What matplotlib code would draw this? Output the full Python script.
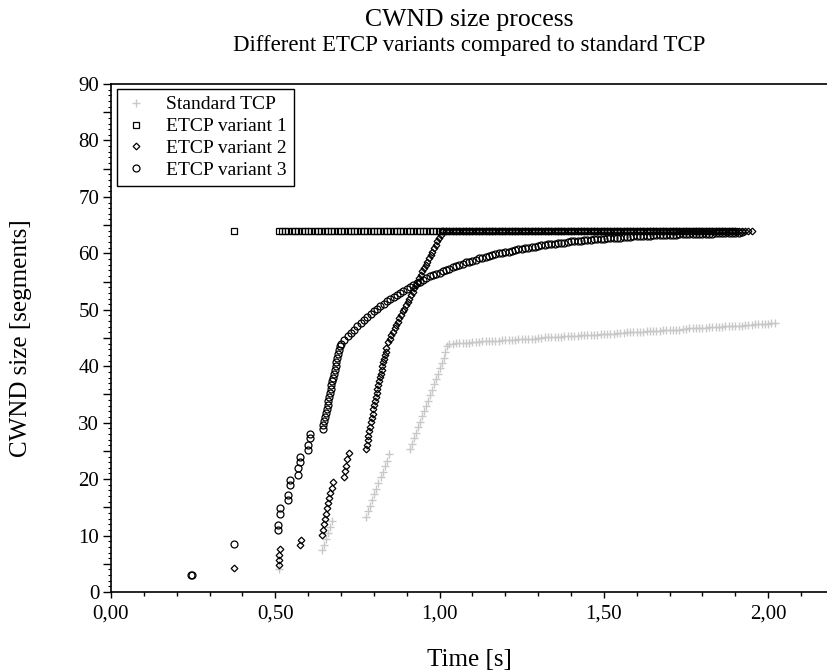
import matplotlib
matplotlib.use('Agg')
import matplotlib.pyplot as plt
from matplotlib.ticker import MultipleLocator, FuncFormatter

plt.rcParams['font.family'] = ['Liberation Serif', 'DejaVu Serif']

# Standard TCP (light grey crosses)
tcp_t = [0.512, 0.641, 0.647, 0.653, 0.660, 0.666, 0.672,
         0.776, 0.782, 0.789, 0.795, 0.801, 0.808, 0.814, 0.821, 0.827, 0.834, 0.840, 0.847,
         0.910, 0.916, 0.922, 0.928, 0.934, 0.940, 0.946, 0.952, 0.958, 0.964,
         0.970, 0.976, 0.982, 0.988, 0.994, 1.000, 1.006, 1.012, 1.018, 1.024]
tcp_y = [4.0, 7.4, 8.4, 9.4, 10.5, 11.5, 12.5,
         13.3, 14.3, 15.3, 16.3, 17.3, 18.3, 19.3, 20.3, 21.3, 22.3, 23.3, 24.4,
         25.3, 26.3, 27.2, 28.2, 29.2, 30.1, 31.1, 32.0, 33.0, 33.9,
         34.9, 35.8, 36.8, 37.7, 38.7, 39.6, 40.6, 41.5, 42.5, 43.5]
tcp_flat_t = [1.03, 1.04, 1.05, 1.06, 1.07, 1.08, 1.09, 1.10, 1.11, 1.12,
              1.13, 1.14, 1.15, 1.16, 1.17, 1.18, 1.19, 1.20, 1.21, 1.22,
              1.23, 1.24, 1.25, 1.26, 1.27, 1.28, 1.29, 1.30, 1.31, 1.32,
              1.33, 1.34, 1.35, 1.36, 1.37, 1.38, 1.39, 1.40, 1.41, 1.42,
              1.43, 1.44, 1.45, 1.46, 1.47, 1.48, 1.49, 1.50, 1.51, 1.52,
              1.53, 1.54, 1.55, 1.56, 1.57, 1.58, 1.59, 1.60, 1.61, 1.62,
              1.63, 1.64, 1.65, 1.66, 1.67, 1.68, 1.69, 1.70, 1.71, 1.72,
              1.73, 1.74, 1.75, 1.76, 1.77, 1.78, 1.79, 1.80, 1.81, 1.82,
              1.83, 1.84, 1.85, 1.86, 1.87, 1.88, 1.89, 1.90, 1.91, 1.92,
              1.93, 1.94, 1.95, 1.96, 1.97, 1.98, 1.99, 2.00, 2.01, 2.02]
tcp_flat_y = [44.0, 44.0, 44.1, 44.1, 44.1, 44.2, 44.2, 44.3, 44.3, 44.3,
              44.4, 44.4, 44.4, 44.5, 44.5, 44.5, 44.6, 44.6, 44.7, 44.7,
              44.7, 44.8, 44.8, 44.8, 44.9, 44.9, 44.9, 45.0, 45.0, 45.1,
              45.1, 45.1, 45.2, 45.2, 45.2, 45.3, 45.3, 45.3, 45.4, 45.4,
              45.5, 45.5, 45.5, 45.6, 45.6, 45.6, 45.7, 45.7, 45.7, 45.8,
              45.8, 45.9, 45.9, 45.9, 46.0, 46.0, 46.0, 46.1, 46.1, 46.1,
              46.2, 46.2, 46.3, 46.3, 46.3, 46.4, 46.4, 46.4, 46.5, 46.5,
              46.5, 46.6, 46.6, 46.7, 46.7, 46.7, 46.8, 46.8, 46.8, 46.9,
              46.9, 46.9, 47.0, 47.0, 47.1, 47.1, 47.1, 47.2, 47.2, 47.2,
              47.3, 47.3, 47.3, 47.4, 47.4, 47.5, 47.5, 47.5, 47.6, 47.6]

# times of the points sitting on the 64 segment ceiling
level_t = [0.51, 0.52, 0.53, 0.54, 0.55, 0.56, 0.57, 0.58, 0.59, 0.60,
           0.61, 0.62, 0.63, 0.64, 0.65, 0.66, 0.67, 0.68, 0.69, 0.70,
           0.71, 0.72, 0.73, 0.74, 0.75, 0.76, 0.77, 0.78, 0.79, 0.80,
           0.81, 0.82, 0.83, 0.84, 0.85, 0.86, 0.87, 0.88, 0.89, 0.90,
           0.91, 0.92, 0.93, 0.94, 0.95, 0.96, 0.97, 0.98, 0.99, 1.00,
           1.01, 1.02, 1.03, 1.04, 1.05, 1.06, 1.07, 1.08, 1.09, 1.10,
           1.11, 1.12, 1.13, 1.14, 1.15, 1.16, 1.17, 1.18, 1.19, 1.20,
           1.21, 1.22, 1.23, 1.24, 1.25, 1.26, 1.27, 1.28, 1.29, 1.30,
           1.31, 1.32, 1.33, 1.34, 1.35, 1.36, 1.37, 1.38, 1.39, 1.40,
           1.41, 1.42, 1.43, 1.44, 1.45, 1.46, 1.47, 1.48, 1.49, 1.50,
           1.51, 1.52, 1.53, 1.54, 1.55, 1.56, 1.57, 1.58, 1.59, 1.60,
           1.61, 1.62, 1.63, 1.64, 1.65, 1.66, 1.67, 1.68, 1.69, 1.70,
           1.71, 1.72, 1.73, 1.74, 1.75, 1.76, 1.77, 1.78, 1.79, 1.80,
           1.81, 1.82, 1.83, 1.84, 1.85, 1.86, 1.87, 1.88, 1.89, 1.90,
           1.91, 1.92, 1.93, 1.94, 1.95]
level_y = [64, 64, 64, 64, 64, 64, 64, 64, 64, 64, 64, 64, 64, 64, 64, 64, 64, 64, 64, 64,
           64, 64, 64, 64, 64, 64, 64, 64, 64, 64, 64, 64, 64, 64, 64, 64, 64, 64, 64, 64,
           64, 64, 64, 64, 64, 64, 64, 64, 64, 64, 64, 64, 64, 64, 64, 64, 64, 64, 64, 64,
           64, 64, 64, 64, 64, 64, 64, 64, 64, 64, 64, 64, 64, 64, 64, 64, 64, 64, 64, 64,
           64, 64, 64, 64, 64, 64, 64, 64, 64, 64, 64, 64, 64, 64, 64, 64, 64, 64, 64, 64,
           64, 64, 64, 64, 64, 64, 64, 64, 64, 64, 64, 64, 64, 64, 64, 64, 64, 64, 64, 64,
           64, 64, 64, 64, 64, 64, 64, 64, 64, 64, 64, 64, 64, 64, 64, 64, 64, 64, 64, 64,
           64, 64, 64, 64, 64]

# ETCP variant 1 (squares)
v1_t = [0.375]
v1_y = [64]

# ETCP variant 2 (diamonds)
v2_t = [0.375, 0.510, 0.510, 0.512, 0.514, 0.575, 0.577,
        0.641, 0.644, 0.648, 0.651, 0.655, 0.658, 0.661, 0.665, 0.668, 0.672, 0.675,
        0.709, 0.712, 0.716, 0.719, 0.723,
        0.776, 0.7785, 0.781, 0.7835, 0.786, 0.7885, 0.791, 0.7935, 0.796, 0.7985,
        0.801, 0.8035, 0.806, 0.8085, 0.811, 0.8135, 0.816, 0.8185, 0.821, 0.8235,
        0.826, 0.8285, 0.831, 0.8335, 0.836, 0.8385,
        0.843, 0.848, 0.853, 0.858, 0.863, 0.868, 0.873, 0.878, 0.883, 0.888,
        0.893, 0.898, 0.903, 0.908, 0.913, 0.918, 0.923, 0.928, 0.933, 0.938,
        0.943, 0.948, 0.953, 0.958, 0.963, 0.968, 0.973, 0.978, 0.983, 0.988,
        0.993, 0.998, 1.003, 1.008]
v2_y = [4.2, 4.8, 5.7, 6.6, 7.6, 8.3, 9.3,
        10.1, 11.0, 12.0, 12.9, 13.8, 14.8, 15.7, 16.6, 17.6, 18.5, 19.5,
        20.3, 21.4, 22.4, 23.5, 24.6,
        25.3, 26.1, 26.9, 27.7, 28.5, 29.3, 30.1, 30.9, 31.6, 32.4,
        33.1, 33.8, 34.6, 35.3, 36.0, 36.7, 37.4, 38.1, 38.7, 39.4,
        40.1, 40.7, 41.3, 42.0, 42.6, 43.2,
        44.3, 44.9, 45.5, 46.1, 46.7, 47.3, 47.9, 48.5, 49.1, 49.7,
        50.2, 50.8, 51.4, 52.0, 52.6, 53.2, 53.8, 54.4, 55.0, 55.6,
        56.2, 56.8, 57.4, 57.9, 58.5, 59.1, 59.7, 60.3, 60.9, 61.5,
        62.1, 62.7, 63.3, 63.9]

# ETCP variant 3 (circles)
v3_t = [0.243, 0.247, 0.375, 0.509, 0.509, 0.514, 0.514, 0.540, 0.540, 0.545, 0.545,
        0.570, 0.570, 0.575, 0.575, 0.600, 0.600, 0.605, 0.607,
        0.644, 0.646, 0.649, 0.651, 0.654, 0.656, 0.659, 0.661, 0.664, 0.666, 0.669,
        0.671, 0.674, 0.676, 0.679, 0.681, 0.684, 0.686, 0.689, 0.691, 0.694, 0.697]
v3_y = [3.0, 3.0, 8.5, 11.0, 11.9, 13.9, 14.8, 16.3, 17.2, 19.0, 19.8,
        20.7, 22.0, 23.1, 24.0, 25.2, 26.0, 27.2, 28.0,
        28.8, 29.6, 30.3, 31.0, 31.7, 32.4, 33.1, 33.8, 34.5, 35.2, 35.9,
        36.6, 37.3, 38.0, 38.7, 39.4, 40.1, 40.8, 41.5, 42.2, 42.9, 43.6]
v3_curve_t = [0.70, 0.71, 0.72, 0.73, 0.74, 0.75, 0.76, 0.77, 0.78, 0.79,
              0.80, 0.81, 0.82, 0.83, 0.84, 0.85, 0.86, 0.87, 0.88, 0.89,
              0.90, 0.91, 0.92, 0.93, 0.94, 0.95, 0.96, 0.97, 0.98, 0.99,
              1.00, 1.01, 1.02, 1.03, 1.04, 1.05, 1.06, 1.07, 1.08, 1.09,
              1.10, 1.11, 1.12, 1.13, 1.14, 1.15, 1.16, 1.17, 1.18, 1.19,
              1.20, 1.21, 1.22, 1.23, 1.24, 1.25, 1.26, 1.27, 1.28, 1.29,
              1.30, 1.31, 1.32, 1.33, 1.34, 1.35, 1.36, 1.37, 1.38, 1.39,
              1.40, 1.41, 1.42, 1.43, 1.44, 1.45, 1.46, 1.47, 1.48, 1.49,
              1.50, 1.51, 1.52, 1.53, 1.54, 1.55, 1.56, 1.57, 1.58, 1.59,
              1.60, 1.61, 1.62, 1.63, 1.64, 1.65, 1.66, 1.67, 1.68, 1.69,
              1.70, 1.71, 1.72, 1.73, 1.74, 1.75, 1.76, 1.77, 1.78, 1.79,
              1.80, 1.81, 1.82, 1.83, 1.84, 1.85, 1.86, 1.87, 1.88, 1.89,
              1.90, 1.91, 1.92]
v3_curve_y = [44.0, 44.7, 45.3, 45.9, 46.5, 47.1, 47.6, 48.2, 48.7, 49.2,
              49.7, 50.1, 50.6, 51.0, 51.5, 51.9, 52.3, 52.7, 53.0, 53.4,
              53.7, 54.1, 54.4, 54.7, 55.0, 55.3, 55.6, 55.9, 56.1, 56.4,
              56.6, 56.9, 57.1, 57.3, 57.6, 57.8, 58.0, 58.2, 58.4, 58.5,
              58.7, 58.9, 59.1, 59.2, 59.4, 59.5, 59.7, 59.8, 60.0, 60.1,
              60.2, 60.3, 60.5, 60.6, 60.7, 60.8, 60.9, 61.0, 61.1, 61.2,
              61.3, 61.4, 61.5, 61.6, 61.6, 61.7, 61.8, 61.9, 61.9, 62.0,
              62.1, 62.1, 62.2, 62.2, 62.3, 62.4, 62.4, 62.5, 62.5, 62.6,
              62.6, 62.7, 62.7, 62.7, 62.8, 62.8, 62.9, 62.9, 62.9, 63.0,
              63.0, 63.0, 63.1, 63.1, 63.1, 63.2, 63.2, 63.2, 63.2, 63.3,
              63.3, 63.3, 63.3, 63.4, 63.4, 63.4, 63.4, 63.4, 63.5, 63.5,
              63.5, 63.5, 63.5, 63.5, 63.6, 63.6, 63.6, 63.6, 63.6, 63.6,
              63.6, 63.6, 63.7]

fig = plt.figure(figsize=(8.28, 6.72), dpi=100)
ax = fig.add_axes([0.134, 0.119, 0.866, 0.756])

ax.plot(tcp_t + tcp_flat_t, tcp_y + tcp_flat_y, linestyle='none', marker='+',
        color='#c8c8c8', ms=6, mew=1.0, label='Standard TCP')
ax.plot(v1_t + level_t[:140], v1_y + level_y[:140], linestyle='none', marker='s',
        mfc='none', mec='black', ms=4, mew=0.9, label='ETCP variant 1')
ax.plot(v2_t + level_t[50:], v2_y + level_y[50:], linestyle='none', marker='D',
        mfc='none', mec='black', ms=3.4, mew=0.9, label='ETCP variant 2')
ax.plot(v3_t + v3_curve_t, v3_y + v3_curve_y, linestyle='none', marker='o',
        mfc='none', mec='black', ms=5, mew=0.9, label='ETCP variant 3')

ax.set_xlim(0, 2.182)
ax.set_ylim(0, 90)
ax.spines['right'].set_visible(False)
for s in ['left', 'bottom', 'top']:
    ax.spines[s].set_linewidth(1.2)

ax.xaxis.set_major_locator(MultipleLocator(0.5))
ax.xaxis.set_minor_locator(MultipleLocator(0.1))
ax.xaxis.set_major_formatter(FuncFormatter(lambda v, p: f'{v:.2f}'.replace('.', ',')))
ax.yaxis.set_major_locator(MultipleLocator(5))
ax.yaxis.set_minor_locator(MultipleLocator(1))
ax.yaxis.set_major_formatter(FuncFormatter(lambda v, p: f'{v:.0f}' if round(v) % 10 == 0 else ''))
ax.tick_params(axis='x', which='major', length=4, width=1, labelsize=15, pad=5, top=False)
ax.tick_params(axis='x', which='minor', length=3, width=1, top=False)
ax.tick_params(axis='y', which='major', length=5.5, width=1, labelsize=15, pad=3)
ax.tick_params(axis='y', which='minor', length=2.5, width=0.8)

leg = ax.legend(loc='upper left', bbox_to_anchor=(0.008, 0.99), fontsize=14,
                frameon=True, fancybox=False, framealpha=1, edgecolor='black',
                borderpad=0.35, labelspacing=0.22, handlelength=1.3, handletextpad=0.9,
                borderaxespad=0)
leg.get_frame().set_linewidth(1.0)

fig.text(0.567, 0.970, 'CWND size process', ha='center', va='center', fontsize=18.5)
fig.text(0.567, 0.933, 'Different ETCP variants compared to standard TCP', ha='center',
         va='center', fontsize=16.5)
fig.text(0.025, 0.497, 'CWND size [segments]', ha='center', va='center',
         rotation=90, fontsize=18)
fig.text(0.567, 0.018, 'Time [s]', ha='center', va='center', fontsize=18)

fig.savefig('out.png', dpi=100)
